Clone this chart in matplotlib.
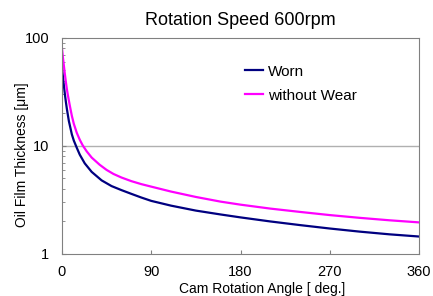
import matplotlib.pyplot as plt
import matplotlib.ticker as mticker

plt.rcParams['font.family'] = ['Liberation Sans', 'DejaVu Sans']

# values (deg, um)
worn_angles = [0, 1, 2, 3, 4, 5, 7, 10, 12, 15, 18, 23, 30, 40, 50, 60, 70,
               80, 90, 110, 135, 160, 180, 210, 240, 270, 300, 330, 360]
worn = [55, 44, 36, 30, 25.5, 22, 17, 12.8, 11.2, 9.6, 8.3, 6.9, 5.75, 4.8,
        4.25, 3.9, 3.6, 3.33, 3.1, 2.8, 2.52, 2.32, 2.18, 2.0, 1.85, 1.72,
        1.61, 1.52, 1.45]

new_angles = [0, 1, 2, 3, 4, 5, 6, 8, 10, 12, 15, 18, 21, 25, 30, 38, 45, 52,
              60, 70, 80, 90, 110, 135, 160, 180, 210, 240, 270, 300, 330, 360]
no_wear = [81, 66, 55, 46, 39, 33.5, 29.5, 23.5, 19, 16, 13.2, 11.4, 10.1,
           8.9, 7.8, 6.7, 6.0, 5.5, 5.1, 4.72, 4.43, 4.2, 3.78, 3.37, 3.05,
           2.86, 2.63, 2.45, 2.29, 2.16, 2.05, 1.96]

x_ticks = [0, 90, 180, 270, 360]

fig = plt.figure(figsize=(4.33, 2.96), dpi=100)
ax = fig.add_axes([0.143, 0.142, 0.825, 0.730])

ax.plot(worn_angles, worn, color='#000080', lw=1.6, label='Worn')
ax.plot(new_angles, no_wear, color='#FF00FF', lw=1.6, label='without Wear')

ax.set_yscale('log')
ax.set_ylim(1, 100)
ax.set_xlim(0, 360)
ax.set_xticks(x_ticks)
ax.yaxis.set_major_formatter(mticker.FuncFormatter(lambda v, p: '%g' % v))
ax.yaxis.set_minor_formatter(mticker.NullFormatter())
ax.axhline(10, color='#b0b0b0', lw=1, zorder=0)

for s in ax.spines.values():
    s.set_color('#808080')
ax.tick_params(which='both', direction='in', color='#808080', labelsize=10.5)
ax.tick_params(which='major', length=3)
ax.tick_params(which='minor', length=2)
ax.tick_params(axis='x', pad=8)
ax.tick_params(axis='y', pad=9)

ax.set_title('Rotation Speed 600rpm', fontsize=13, pad=9)
fig.text(262 / 433, 1 - 289 / 296, 'Cam Rotation Angle [ deg.]', fontsize=10,
         ha='center', va='center')
fig.text(22 / 433, 1 - 155 / 296, 'Oil Film Thickness [\u03bcm]', fontsize=10,
         rotation=90, ha='center', va='center')

ax.legend(loc='upper left', bbox_to_anchor=(0.473, 0.94), frameon=False,
          fontsize=11, handlelength=1.2, handletextpad=0.33, labelspacing=0.65)

fig.savefig('out.png', dpi=100)
